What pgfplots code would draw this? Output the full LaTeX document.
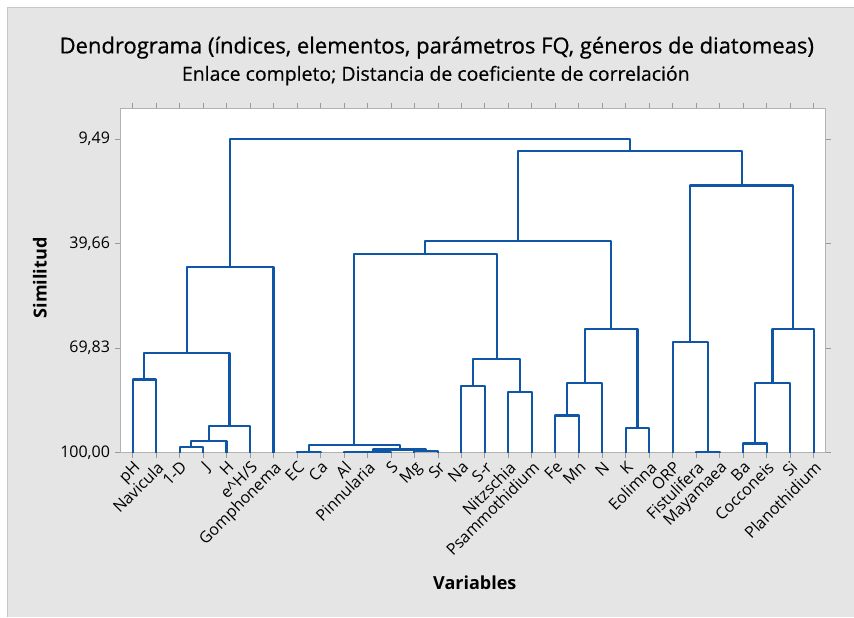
\documentclass[border=0pt]{standalone}
\usepackage{fontspec}
\setmainfont{Open Sans}
\usepackage{pgfplots}
\pgfplotsset{compat=1.18}
\definecolor{dendro}{RGB}{16,86,166}
\definecolor{panel}{RGB}{229,229,229}
\pgfplotsset{dg/.style={color=dendro, solid, line width=1.6pt, line join=round, mark=none}}
\begin{document}
\begin{tikzpicture}
% panel, 1px = 0.75pt
\fill[white] (0,0) rectangle (640.5pt,-462.75pt);
\fill[panel] (5.25pt,-5.25pt) rectangle (640.5pt,-462.75pt);
\draw[black!22, line width=0.6pt] (5.25pt,-462.75pt) -- (5.25pt,-5.25pt) -- (640.5pt,-5.25pt);
\begin{axis}[
  at={(354.75pt,-210.4pt)}, anchor=center,
  scale only axis, width=529.5pt, height=258.75pt,
  xmin=0.46, xmax=30.51, ymin=0.54, ymax=100.08, y dir=reverse,
  clip=false,
  axis background/.style={fill=white},
  axis line style={black!30, line width=0.6pt},
  tick style={black!40, line width=0.6pt},
  tick align=outside, major tick length=4pt,
  xtick={1,...,30},
  xticklabels={pH,Navicula,1-D,J,H,e\^{}H/S,Gomphonema,EC,Ca,Al,Pinnularia,S,Mg,Sr,Na,S-r,Nitzschia,Psammothidium,Fe,Mn,N,K,Eolimna,ORP,Fistulifera,Mayamaea,Ba,Cocconeis,Si,Planothidium},
  ytick={9.49,39.66,69.83,100},
  yticklabels={{9,49},{39,66},{69,83},{100,00}},
  ticklabel style={font=\fontsize{12}{14}\selectfont},
  xticklabel style={rotate=45, anchor=north east, inner sep=1pt},
]
\addplot[dg] coordinates {(1,100)(1,78.9)(2,78.9)(2,100)};
\addplot[dg] coordinates {(3,100)(3,98.5)(4,98.5)(4,100)};
\addplot[dg] coordinates {(3.5,98.5)(3.5,96.7)(5,96.7)(5,100)};
\addplot[dg] coordinates {(4.25,96.7)(4.25,92.4)(6,92.4)(6,100)};
\addplot[dg] coordinates {(1.5,78.9)(1.5,71.3)(5.125,71.3)(5.125,92.4)};
\addplot[dg] coordinates {(3.3125,71.3)(3.3125,46.5)(7,46.5)(7,100)};
\addplot[dg] coordinates {(8,100)(8,99.8)(9,99.8)(9,100)};
\addplot[dg] coordinates {(10,100)(10,99.95)(11,99.95)(11,100)};
\addplot[dg] coordinates {(10.5,99.95)(10.5,99.9)(12,99.9)(12,100)};
\addplot[dg] coordinates {(13,100)(13,99.5)(14,99.5)(14,100)};
\addplot[dg] coordinates {(11.25,99.9)(11.25,99.1)(13.5,99.1)(13.5,99.5)};
\addplot[dg] coordinates {(8.5,99.8)(8.5,97.85)(12.375,97.85)(12.375,99.1)};
\addplot[dg] coordinates {(15,100)(15,80.7)(16,80.7)(16,100)};
\addplot[dg] coordinates {(17,100)(17,82.6)(18,82.6)(18,100)};
\addplot[dg] coordinates {(15.5,80.7)(15.5,72.9)(17.5,72.9)(17.5,82.6)};
\addplot[dg] coordinates {(10.4375,97.85)(10.4375,42.7)(16.5,42.7)(16.5,72.9)};
\addplot[dg] coordinates {(19,100)(19,89.3)(20,89.3)(20,100)};
\addplot[dg] coordinates {(19.5,89.3)(19.5,80.0)(21,80.0)(21,100)};
\addplot[dg] coordinates {(22,100)(22,92.9)(23,92.9)(23,100)};
\addplot[dg] coordinates {(20.25,80.0)(20.25,64.4)(22.5,64.4)(22.5,92.9)};
\addplot[dg] coordinates {(13.46875,42.7)(13.46875,38.9)(21.375,38.9)(21.375,64.4)};
\addplot[dg] coordinates {(25,100)(25,99.95)(26,99.95)(26,100)};
\addplot[dg] coordinates {(24,100)(24,68.2)(25.5,68.2)(25.5,99.95)};
\addplot[dg] coordinates {(27,100)(27,97.4)(28,97.4)(28,100)};
\addplot[dg] coordinates {(27.5,97.4)(27.5,79.9)(29,79.9)(29,100)};
\addplot[dg] coordinates {(28.25,79.9)(28.25,64.4)(30,64.4)(30,100)};
\addplot[dg] coordinates {(24.75,68.2)(24.75,22.9)(29.125,22.9)(29.125,64.4)};
\addplot[dg] coordinates {(17.421875,38.9)(17.421875,13.0)(26.9375,13.0)(26.9375,22.9)};
\addplot[dg] coordinates {(5.15625,46.5)(5.15625,9.49)(22.1796875,9.49)(22.1796875,13.0)};
\end{axis}
\node[font=\fontsize{16.5}{20}\selectfont\addfontfeature{FakeBold=0.6}] at (327.75pt,-35.75pt) {Dendrograma (índices, elementos, parámetros FQ, géneros de diatomeas)};
\node[font=\fontsize{14.6}{17}\selectfont\addfontfeature{FakeBold=0.4}] at (327pt,-56.75pt) {Enlace completo; Distancia de coeficiente de correlación};
\node[font=\bfseries\fontsize{13.5}{16}\selectfont] at (356.25pt,-437.25pt) {Variables};
\node[font=\bfseries\fontsize{13.5}{16}\selectfont, rotate=90] at (30pt,-208.5pt) {Similitud};
\end{tikzpicture}
\end{document}
